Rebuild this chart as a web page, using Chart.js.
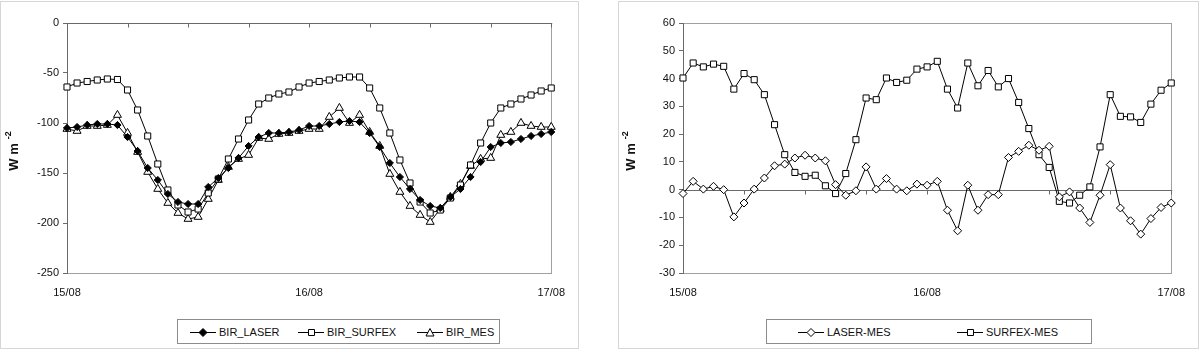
<!DOCTYPE html>
<html>
<head>
<meta charset="utf-8">
<script src="https://cdn.jsdelivr.net/npm/chart.js@4.4.1/dist/chart.umd.min.js"></script>
<style>
  body { margin: 0; background: #fff; font-family: "Liberation Sans", Arial, sans-serif; }
  .panel { position: absolute; top: 1px; height: 346px; border: 1px solid #d6d6d6; }
  #p1 { left: 0; width: 577px; }
  #p2 { left: 618px; width: 579px; }
  canvas { position: absolute; top: 0; }
  .legend { position: absolute; top: 319px; height: 23px; border: 1px solid #8c8c8c; font-size: 11px; color: #111; }
  .item { position: absolute; top: 0; height: 23px; display: flex; align-items: center; white-space: nowrap; }
  .item canvas { position: static; margin-right: 3px; }
</style>
</head>
<body>
<div class="panel" id="p1"></div>
<div class="panel" id="p2"></div>
<canvas id="left" width="578" height="312" style="left:0"></canvas>
<canvas id="right" width="580" height="312" style="left:618px"></canvas>
<div class="legend" id="legLeft" style="left:177px; width:321px"></div>
<div class="legend" id="legRight" style="left:766px; width:324px"></div>

<script>
// time steps (hours since 15/08 00h)
const hours = [0,1,2,3,4,5,6,7,8,9,10,11,12,13,14,15,16,17,18,19,20,21,22,23,24,
  25,26,27,28,29,30,31,32,33,34,35,36,37,38,39,40,41,42,43,44,45,46,47,48];
const dayLabels = ['15/08', '16/08', '17/08'];
const hourTicks = [0, 6, 12, 18, 24, 30, 36, 42, 48];

// left panel : longwave budget (W m-2)
const birLaser = [-105, -104, -102, -101, -101, -102, -114, -128, -145, -157, -171, -179, -181, -181,
  -164, -155, -145, -135, -123, -114, -110, -110, -109, -107, -103, -103, -101, -99, -98, -99,
  -110, -124, -140, -154, -166, -177, -183, -185, -174, -166, -154, -139, -124, -120, -119,
  -116, -113, -111, -109];
const birSurfex = [-64, -60, -58.5, -57, -56, -56.5, -67, -87, -113, -141, -167, -182, -189, -186,
  -170, -156, -136, -116, -97, -81, -75, -71, -69, -64, -60, -58.5, -57, -55, -54, -54,
  -65, -85, -110, -137, -160, -179, -190, -187, -175, -162, -142, -120, -100, -85, -81,
  -76, -72, -68, -65];
const birMes = [-106, -108, -103, -103, -102, -92, -110, -129, -149, -166, -180, -190, -196, -194,
  -176, -157, -144, -136, -132, -115, -116, -111, -110, -108, -106, -106, -94, -85, -100, -92,
  -109, -123, -151, -169, -183, -192, -199, -186, -174, -161, -143, -136, -135, -112, -109,
  -100, -103, -104, -104];

// right panel : differences (W m-2)
const laserMes = [-1.4, 3, 0.2, 1.2, 0, -9.8, -4.8, 0.2, 4.2, 8.6, 9.2, 11.4, 12.4, 11.4, 10.4,
  1.8, -2, -0.4, 8.2, 0.2, 4, 0.2, -0.4, 2, 1.6, 3, -7.4, -14.8, 1.6, -7.4, -1.8, -1.8,
  11.6, 13.8, 16, 14.2, 15.6, -2.6, -0.8, -6.6, -11.8, -2, 9, -6.6, -11.2, -16, -10.4, -6.4, -4.8];
const surfexMes = [40.2, 45.6, 44.2, 45.2, 44.4, 36.2, 41.8, 39.6, 34.2, 23.4, 12.6, 6.2, 4.8, 5.2,
  1.4, -1.4, 5.8, 18, 33, 32.4, 40.2, 38.6, 39.4, 43.4, 44.2, 46.2, 36.2, 29.4, 45.6, 37.4,
  42.9, 37, 40, 31.4, 22, 12.6, 8, -4.2, -4.8, -2, 1, 15.4, 34.2, 26.4, 26.2, 24.2, 30.8, 35.8, 38.4];

const unitMain = 'W m';
const unitSup = '-2';

const FONT = '"Liberation Sans", Arial, sans-serif';
Chart.defaults.font.family = FONT;
Chart.defaults.font.size = 11;
Chart.defaults.color = '#111';

// marker styles per series
const styles = {
  diamondFilled: { pointStyle: 'rectRot', pointRadius: 3.6, pointBackgroundColor: '#000' },
  square:        { pointStyle: 'rect', pointRadius: 4.3, pointBackgroundColor: '#fff' },
  triangle:      { pointStyle: 'triangle', pointRadius: 4.6, pointBackgroundColor: '#fff' },
  diamond:       { pointStyle: 'rectRot', pointRadius: 4, pointBackgroundColor: '#fff' }
};

function makeDataset(label, data, style) {
  return Object.assign({
    label: label,
    data: data,
    borderColor: '#000',
    borderWidth: 1,
    pointBorderColor: '#000',
    pointBorderWidth: 1,
    tension: 0,
    fill: false,
    clip: false
  }, styles[style]);
}

// frame, x axis line with tick marks, unit title
const framePlugin = {
  id: 'frame',
  beforeDatasetsDraw(chart, args, opts) {
    const { ctx, chartArea: a, scales } = chart;
    ctx.save();
    ctx.lineWidth = 1;
    ctx.strokeStyle = '#a0a0a0';
    ctx.strokeRect(Math.round(a.left) + 0.5, Math.round(a.top) + 0.5,
      Math.round(a.right - a.left), Math.round(a.bottom - a.top));
    ctx.strokeStyle = '#6a6a6a';
    ctx.beginPath();
    ctx.moveTo(Math.round(a.left) + 0.5, a.top);
    ctx.lineTo(Math.round(a.left) + 0.5, a.bottom + 1);
    const yy = Math.round(scales.y.getPixelForValue(opts.cross)) + 0.5;
    ctx.moveTo(a.left, yy);
    ctx.lineTo(a.right + 1, yy);
    hourTicks.forEach(h => {
      const xx = Math.round(scales.x.getPixelForValue(h)) + 0.5;
      ctx.moveTo(xx, yy);
      ctx.lineTo(xx, yy + 4);
    });
    ctx.stroke();
    ctx.restore();
  },
  afterDraw(chart, args, opts) {
    const ctx = chart.ctx;
    ctx.save();
    ctx.translate(opts.titleX, opts.titleY);
    ctx.rotate(-Math.PI / 2);
    ctx.fillStyle = '#111';
    ctx.textBaseline = 'middle';
    const big = 'bold 13px ' + FONT;
    const small = 'bold 9px ' + FONT;
    ctx.font = big;
    const w1 = ctx.measureText(unitMain).width;
    ctx.font = small;
    const w2 = ctx.measureText(unitSup).width;
    const x0 = -(w1 + 4 + w2) / 2;
    ctx.font = big;
    ctx.fillText(unitMain, x0, 0);
    ctx.font = small;
    ctx.fillText(unitSup, x0 + w1 + 4, -5);
    ctx.restore();
  }
};

function makeChart(id, datasets, yMin, yMax, yStep, cross, yWidth, padRight, titleX) {
  return new Chart(document.getElementById(id), {
    type: 'line',
    data: { labels: hours, datasets: datasets },
    options: {
      responsive: false,
      animation: false,
      layout: { padding: { top: 23, right: padRight, left: 0, bottom: 0 } },
      plugins: {
        legend: { display: false },
        tooltip: { enabled: false },
        frame: { cross: cross, titleX: titleX, titleY: 151 }
      },
      scales: {
        x: {
          type: 'linear',
          min: 0, max: 48,
          grid: { display: false, drawTicks: false },
          border: { display: false },
          ticks: {
            stepSize: 24, autoSkip: false, maxRotation: 0, padding: 13,
            callback: v => dayLabels[v / 24]
          },
          afterFit: s => { s.height = 39; }
        },
        y: {
          min: yMin, max: yMax,
          grid: { drawOnChartArea: false, tickLength: 4, color: '#6a6a6a' },
          border: { display: false },
          ticks: { stepSize: yStep, padding: 4 },
          afterFit: s => { s.width = yWidth; }
        }
      }
    },
    plugins: [framePlugin]
  });
}

makeChart('left', [
  makeDataset('BIR_LASER', birLaser, 'diamondFilled'),
  makeDataset('BIR_SURFEX', birSurfex, 'square'),
  makeDataset('BIR_MES', birMes, 'triangle')
], -250, 0, 50, 0, 67, 25, 14);

makeChart('right', [
  makeDataset('LASER-MES', laserMes, 'diamond'),
  makeDataset('SURFEX-MES', surfexMes, 'square')
], -30, 60, 10, 0, 65, 26, 13);

// legends (Excel style: line + marker)
function icon(shape, filled) {
  const c = document.createElement('canvas');
  c.width = 26; c.height = 12;
  const g = c.getContext('2d');
  g.strokeStyle = '#000'; g.lineWidth = 1;
  g.beginPath(); g.moveTo(0, 6.5); g.lineTo(26, 6.5); g.stroke();
  g.fillStyle = filled ? '#000' : '#fff';
  g.beginPath();
  if (shape === 'diamond') {
    g.moveTo(13, 2.5); g.lineTo(17, 6.5); g.lineTo(13, 10.5); g.lineTo(9, 6.5); g.closePath();
  } else if (shape === 'square') {
    g.rect(10.5, 3.5, 6, 6);
  } else {
    g.moveTo(13, 2.5); g.lineTo(17, 10); g.lineTo(9, 10); g.closePath();
  }
  g.fill(); g.stroke();
  return c;
}

function buildLegend(elId, entries) {
  const box = document.getElementById(elId);
  entries.forEach(e => {
    const it = document.createElement('div');
    it.className = 'item';
    it.style.left = e.offset + 'px';
    it.appendChild(icon(e.shape, e.filled));
    const t = document.createElement('span');
    t.textContent = e.label;
    it.appendChild(t);
    box.appendChild(it);
  });
}

buildLegend('legLeft', [
  { label: 'BIR_LASER', shape: 'diamond', filled: true, offset: 12 },
  { label: 'BIR_SURFEX', shape: 'square', filled: false, offset: 120 },
  { label: 'BIR_MES', shape: 'triangle', filled: false, offset: 239 }
]);
buildLegend('legRight', [
  { label: 'LASER-MES', shape: 'diamond', filled: false, offset: 31 },
  { label: 'SURFEX-MES', shape: 'square', filled: false, offset: 190 }
]);
</script>
</body>
</html>
